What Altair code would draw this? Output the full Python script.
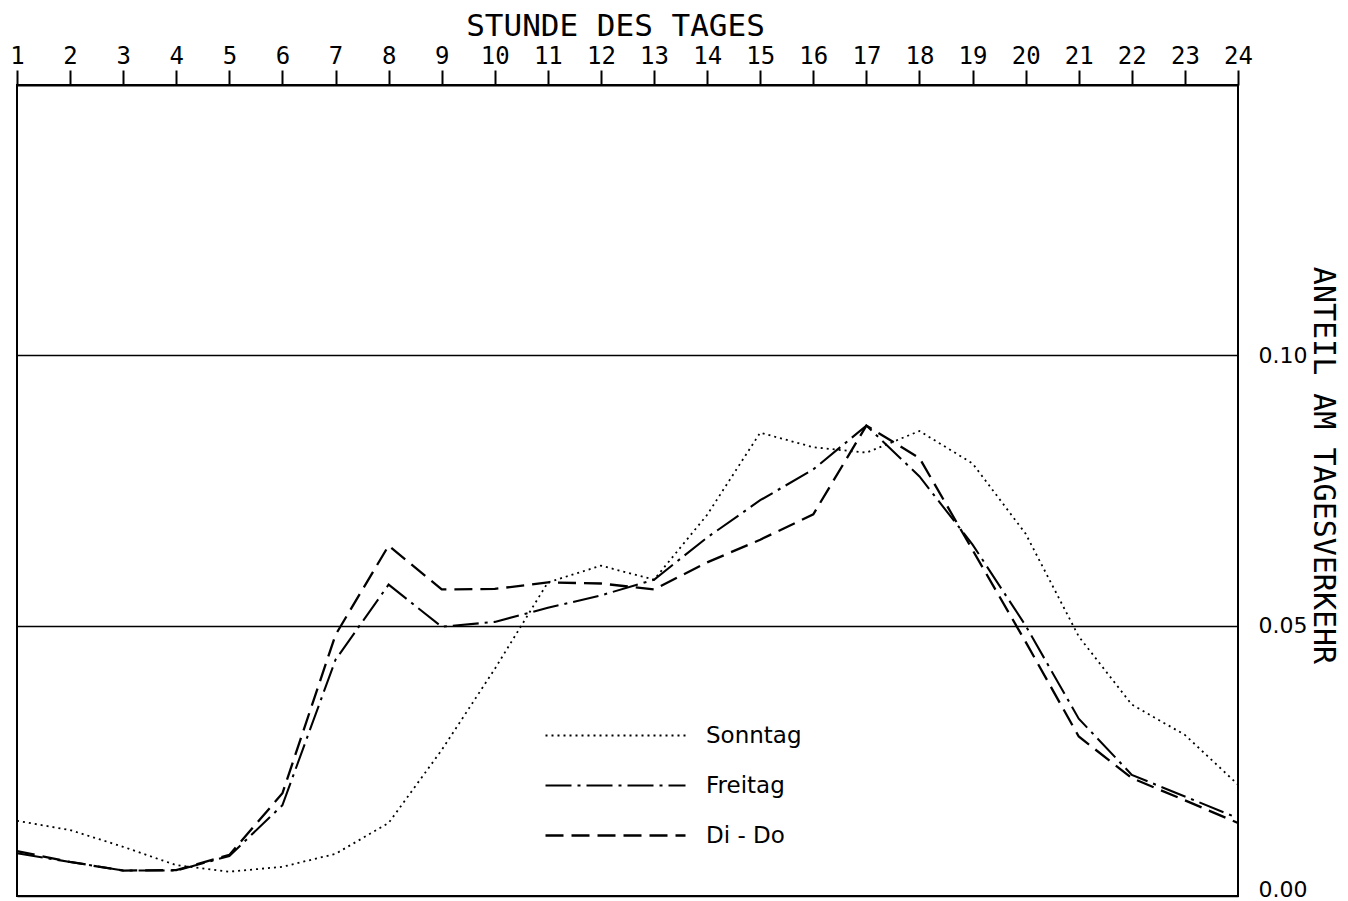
import altair as alt
import pandas as pd

hours = list(range(1, 25))
sonntag = [0.0139, 0.0122, 0.0091, 0.0057, 0.0045, 0.0054, 0.0078, 0.0135, 0.0270, 0.0420,
           0.0580, 0.0611, 0.0585, 0.0705, 0.0857, 0.0830, 0.0820, 0.0860, 0.0800, 0.0670,
           0.0480, 0.0354, 0.0298, 0.0206]
freitag = [0.0079, 0.0063, 0.0047, 0.0047, 0.0074, 0.0168, 0.0437, 0.0576, 0.0498, 0.0507,
           0.0533, 0.0556, 0.0585, 0.0663, 0.0732, 0.0789, 0.0870, 0.0776, 0.0650, 0.0500,
           0.0328, 0.0224, 0.0184, 0.0144]
di_do = [0.0083, 0.0063, 0.0047, 0.0048, 0.0076, 0.0190, 0.0483, 0.0648, 0.0567, 0.0568,
         0.0580, 0.0578, 0.0567, 0.0617, 0.0659, 0.0706, 0.0870, 0.0810, 0.0640, 0.0470,
         0.0295, 0.0218, 0.0177, 0.0135]
series_names = ["Sonntag", "Freitag", "Di - Do"]
y_ticks = [0.0, 0.05, 0.10]

rows = []
for name, vals in zip(series_names, [sonntag, freitag, di_do]):
    for h, v in zip(hours, vals):
        rows.append({"Stunde": h, "Anteil": v, "Reihe": name})
df = pd.DataFrame(rows)

mono = "DejaVu Sans Mono"
sans = "DejaVu Sans"

chart = alt.Chart(df).mark_line(color="black", strokeJoin="miter").encode(
    x=alt.X(
        "Stunde:Q",
        scale=alt.Scale(domain=[1, 24], nice=False, zero=False),
        axis=alt.Axis(
            orient="top", values=hours, title="STUNDE DES TAGES", grid=False,
            domainColor="black", domainWidth=2, tickColor="black", tickWidth=2,
            tickSize=15, labelFont=mono, labelFontSize=24, labelColor="black",
            labelPadding=7, labelBaseline="alphabetic", labelFlush=False,
            labelOverlap=False,
            titleFont=mono, titleFontSize=31, titleFontWeight="normal",
            titleColor="black", titleX=598, titleY=-50, titleBaseline="alphabetic",
            titleAlign="center",
        ),
    ),
    y=alt.Y(
        "Anteil:Q",
        scale=alt.Scale(domain=[0, 0.15], nice=False),
        axis=alt.Axis(
            orient="right", values=y_ticks, format=".2f", grid=True,
            gridColor="black", gridWidth=1.6, gridOpacity=1,
            domain=False, ticks=False, labelPadding=20, labelFont=sans,
            labelFontSize=22, labelColor="black",
            labelBaseline={"condition": {"test": "datum.value == 0", "value": "alphabetic"},
                           "value": "middle"},
            title="ANTEIL AM TAGESVERKEHR", titleFont=mono, titleFontSize=30,
            titleFontWeight="normal", titleColor="black", titleAngle=90,
            titleX=84, titleY=380, titleBaseline="middle", titleAlign="center",
        ),
    ),
    strokeDash=alt.StrokeDash(
        "Reihe:N",
        scale=alt.Scale(domain=series_names, range=[[2, 4], [26, 6, 3, 6], [18, 8]]),
        legend=alt.Legend(
            orient="none", legendX=587, legendY=639, title=None,
            symbolType="M-7,0H7", symbolSize=400, symbolStrokeWidth=2,
            symbolStrokeColor="black", labelFont=sans, labelFontSize=23,
            labelColor="black", labelOffset=79, rowPadding=26, padding=0,
        ),
    ),
    strokeWidth=alt.StrokeWidth(
        "Reihe:N",
        scale=alt.Scale(domain=series_names, range=[1.8, 2.3, 2.3]),
        legend=None,
    ),
).properties(
    width=1221,
    height=811,
    autosize=alt.AutoSizeParams(type="none"),
    padding={"left": 9, "top": 77, "right": 102, "bottom": 4},
    background="white",
).configure_view(stroke="black", strokeWidth=2)

chart.save("out.html", embed_options={"renderer": "svg", "actions": False})
